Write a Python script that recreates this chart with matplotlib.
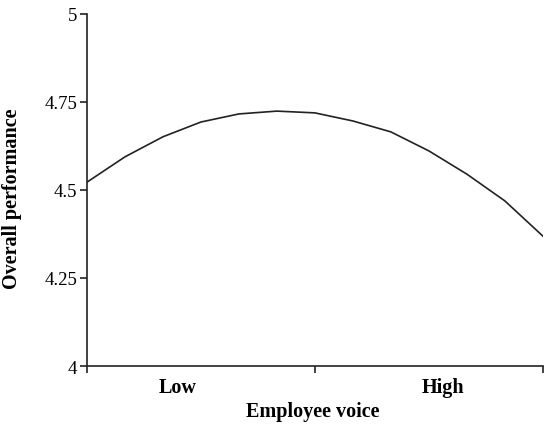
import matplotlib.pyplot as plt
import matplotlib.transforms as mtransforms

# data
voice = [-3, -2.5, -2, -1.5, -1, -0.5, 0, 0.5, 1, 1.5, 2, 2.5, 3]
performance = [4.522, 4.594, 4.651, 4.693, 4.716, 4.724, 4.719,
               4.696, 4.665, 4.611, 4.545, 4.469, 4.369]
y_ticks = [4, 4.25, 4.5, 4.75, 5]
y_tick_labels = ['4', '4.25', '4.5', '4.75', '5']
x_ticks = [-3, 0, 3]
level_labels = ['Low', 'High']
level_pos = [-1.8, 1.68]

plt.rcParams['font.family'] = ['Liberation Serif', 'DejaVu Serif']

fig = plt.figure(figsize=(5.5, 4.27), dpi=100)
ax = fig.add_axes([0.158, 0.1405, 0.829, 0.8245])

ax.plot(voice, performance, color='#222222', linewidth=1.2)

ax.set_xlim(-3, 3)
ax.set_ylim(4, 5)
ax.set_yticks(y_ticks)
ax.set_yticklabels(y_tick_labels, fontsize=13.5)
ax.set_xticks(x_ticks)
ax.set_xticklabels([])
ax.tick_params(direction='out', length=5, width=1.2, color='#222222', pad=2)

for side in ['top', 'right']:
    ax.spines[side].set_visible(False)
for side in ['left', 'bottom']:
    ax.spines[side].set_linewidth(1.2)
    ax.spines[side].set_color('#222222')

trans = mtransforms.blended_transform_factory(ax.transData, ax.transAxes)
for lab, pos in zip(level_labels, level_pos):
    ax.text(pos, -0.06, lab, transform=trans, ha='center', va='center',
            fontsize=14.5, fontweight='bold')

ax.text(-0.03, -0.128, 'Employee voice', transform=trans, ha='center',
        va='center', fontsize=14.5, fontweight='bold')
fig.text(0.022, 0.535, 'Overall performance', rotation=90, ha='center',
         va='center', fontsize=14.5, fontweight='bold')

plt.savefig('out.png', dpi=100)
